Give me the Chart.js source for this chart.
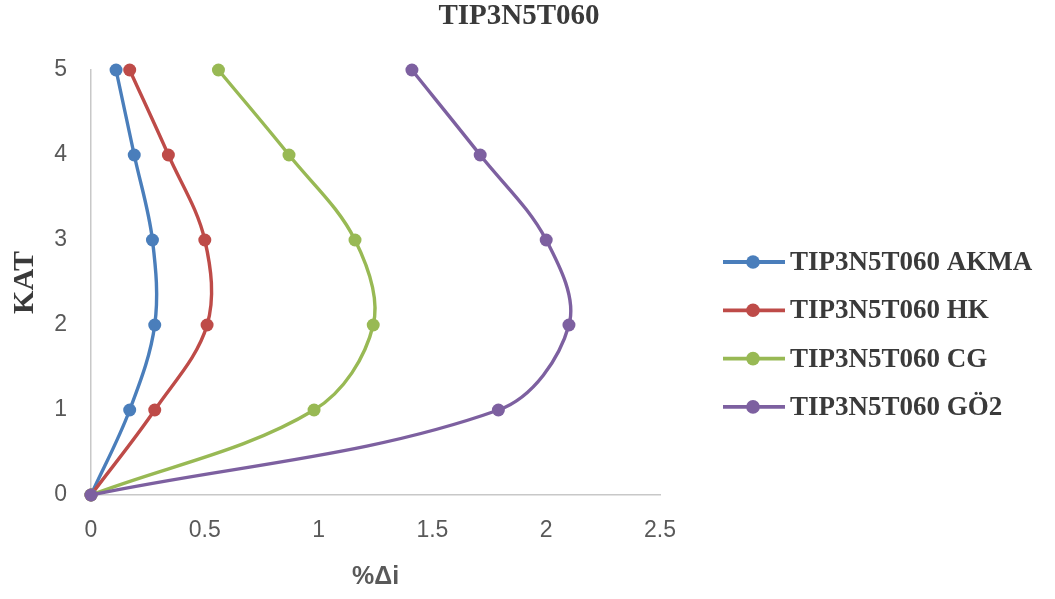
<!DOCTYPE html>
<html>
<head>
<meta charset="utf-8">
<script src="https://cdn.jsdelivr.net/npm/chart.js@4/dist/chart.umd.min.js"></script>
<style>
  html, body { margin: 0; padding: 0; background: #ffffff; }
  #wrap { width: 1055px; height: 599px; }
</style>
</head>
<body>
<div id="wrap"><canvas id="c" width="1055" height="599"></canvas></div>
<script>
// Storey levels (KAT) and drift ratios (%Δi) for each analysis case
const chartTitle = 'TIP3N5T060';
const storeys = [0, 1, 2, 3, 4, 5];
const seriesNames = ['TIP3N5T060 AKMA', 'TIP3N5T060 HK', 'TIP3N5T060 CG', 'TIP3N5T060 GÖ2'];
const akma = [0, 0.17, 0.28, 0.27, 0.19, 0.11];
const hk   = [0, 0.28, 0.51, 0.50, 0.34, 0.17];
const cg   = [0, 0.98, 1.24, 1.16, 0.87, 0.56];
const go2  = [0, 1.79, 2.10, 2.00, 1.71, 1.41];
const xTickLabels = ['0', '0.5', '1', '1.5', '2', '2.5'];
const yTickLabels = ['0', '1', '2', '3', '4', '5'];
const xAxisTitle = '%Δi';
const yAxisTitle = 'KAT';

const colors = ['#4A7EBB', '#BE4B48', '#98B954', '#7D60A0'];
const allSeries = [akma, hk, cg, go2];

const datasets = allSeries.map((vals, i) => ({
  label: seriesNames[i],
  data: vals.map((v, k) => ({ x: v, y: storeys[k] })),
  borderColor: colors[i],
  backgroundColor: colors[i],
  pointBackgroundColor: colors[i],
  pointBorderColor: colors[i],
  borderWidth: 3.4,
  pointRadius: 6.5,
  pointBorderWidth: 0,
  tension: 0.35,
  clip: false,
  order: allSeries.length - i
}));

// Title and line-with-marker legend drawn on the canvas
const decorPlugin = {
  id: 'decor',
  afterDraw(chart) {
    const ctx = chart.ctx;
    ctx.save();
    ctx.fillStyle = '#3a3a3a';
    ctx.font = 'bold 29px "Liberation Serif", "Times New Roman", serif';
    ctx.textAlign = 'center';
    ctx.textBaseline = 'middle';
    ctx.fillText(chartTitle, 519, 17);

    const ds = chart.data.datasets;
    ctx.font = 'bold 27px "Liberation Serif", "Times New Roman", serif';
    ctx.textAlign = 'left';
    ds.forEach((d, i) => {
      const y = 262 + i * 48.3;
      ctx.strokeStyle = d.borderColor;
      ctx.lineWidth = 3.8;
      ctx.beginPath();
      ctx.moveTo(723, y);
      ctx.lineTo(785, y);
      ctx.stroke();
      ctx.fillStyle = d.borderColor;
      ctx.beginPath();
      ctx.arc(753, y, 6.8, 0, Math.PI * 2);
      ctx.fill();
      ctx.fillStyle = '#3a3a3a';
      ctx.fillText(d.label, 790, y + 1);
    });
    ctx.restore();
  }
};

new Chart(document.getElementById('c'), {
  type: 'line',
  data: { datasets },
  options: {
    responsive: false,
    animation: false,
    layout: { padding: { top: 70, left: 0, right: 395, bottom: 0 } },
    plugins: {
      legend: { display: false },
      title: { display: false },
      tooltip: { enabled: false }
    },
    scales: {
      x: {
        type: 'linear',
        min: 0,
        max: 2.5,
        grid: { display: false, drawTicks: false },
        border: { display: true, color: '#c8c8c8', width: 1.5 },
        ticks: {
          stepSize: 0.5,
          padding: 22,
          color: '#595959',
          font: { family: '"Liberation Sans", Arial, sans-serif', size: 23 },
          callback: (v) => xTickLabels[Math.round(v / 0.5)]
        },
        title: {
          display: true,
          text: xAxisTitle,
          color: '#595959',
          font: { family: '"Liberation Sans", Arial, sans-serif', size: 25, weight: 'bold' },
          padding: { top: 0, bottom: 7 }
        },
        afterFit(scale) { scale.height = 104; }
      },
      y: {
        type: 'linear',
        min: 0,
        max: 5,
        grid: { display: false, drawTicks: false },
        border: { display: true, color: '#c8c8c8', width: 1.5 },
        ticks: {
          stepSize: 1,
          padding: 24,
          color: '#595959',
          font: { family: '"Liberation Sans", Arial, sans-serif', size: 23 },
          callback: (v) => yTickLabels[Math.round(v)]
        },
        title: {
          display: true,
          text: yAxisTitle,
          color: '#3a3a3a',
          font: { family: '"Liberation Serif", "Times New Roman", serif', size: 30, weight: 'bold' },
          padding: { top: 7, bottom: 0 }
        },
        afterFit(scale) { scale.width = 91; }
      }
    }
  },
  plugins: [decorPlugin]
});
</script>
</body>
</html>
